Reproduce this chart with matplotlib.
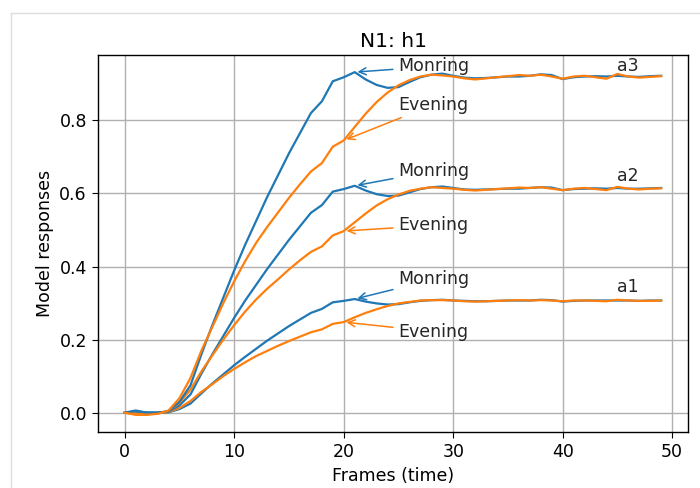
import matplotlib
matplotlib.use("Agg")
import matplotlib.pyplot as plt
from matplotlib.lines import Line2D

frames = list(range(50))

morning_a3 = [0.000, 0.006, 0.000, 0.000, 0.004, 0.030, 0.075, 0.160, 0.240, 0.315,
              0.390, 0.460, 0.525, 0.590, 0.650, 0.710, 0.765, 0.820, 0.852, 0.907,
              0.918, 0.932, 0.912, 0.897, 0.889, 0.891, 0.905, 0.918, 0.925, 0.928,
              0.922, 0.917, 0.915, 0.916, 0.918, 0.920, 0.920, 0.922, 0.926, 0.924,
              0.913, 0.918, 0.920, 0.921, 0.920, 0.922, 0.920, 0.919, 0.921, 0.922]
evening_a3 = [0.000, -0.006, -0.006, -0.003, 0.006, 0.040, 0.095, 0.170, 0.235, 0.300,
              0.360, 0.415, 0.465, 0.508, 0.548, 0.588, 0.625, 0.660, 0.683, 0.728,
              0.745, 0.782, 0.818, 0.850, 0.876, 0.896, 0.910, 0.920, 0.925, 0.923,
              0.920, 0.915, 0.912, 0.915, 0.918, 0.921, 0.924, 0.922, 0.925, 0.920,
              0.914, 0.920, 0.922, 0.918, 0.914, 0.927, 0.920, 0.917, 0.919, 0.921]
morning_a2 = [0.000, 0.004, 0.000, 0.000, 0.003, 0.020, 0.050, 0.107, 0.160, 0.210,
              0.260, 0.307, 0.350, 0.393, 0.433, 0.473, 0.510, 0.547, 0.568, 0.605,
              0.612, 0.621, 0.608, 0.598, 0.593, 0.594, 0.603, 0.612, 0.617, 0.619,
              0.615, 0.611, 0.610, 0.611, 0.612, 0.613, 0.613, 0.615, 0.617, 0.616,
              0.609, 0.612, 0.613, 0.614, 0.613, 0.615, 0.613, 0.613, 0.614, 0.615]
evening_a2 = [0.000, -0.004, -0.004, -0.002, 0.004, 0.027, 0.063, 0.113, 0.157, 0.200,
              0.240, 0.277, 0.310, 0.339, 0.365, 0.392, 0.417, 0.440, 0.455, 0.485,
              0.497, 0.521, 0.545, 0.567, 0.584, 0.597, 0.607, 0.613, 0.617, 0.615,
              0.613, 0.610, 0.608, 0.610, 0.612, 0.614, 0.616, 0.615, 0.617, 0.613,
              0.609, 0.613, 0.615, 0.612, 0.609, 0.618, 0.613, 0.611, 0.613, 0.614]
morning_a1 = [0.000, 0.002, 0.000, 0.000, 0.001, 0.010, 0.025, 0.053, 0.080, 0.105,
              0.130, 0.153, 0.175, 0.197, 0.217, 0.237, 0.255, 0.273, 0.284, 0.302,
              0.306, 0.311, 0.304, 0.299, 0.296, 0.297, 0.302, 0.306, 0.308, 0.309,
              0.307, 0.306, 0.305, 0.305, 0.306, 0.307, 0.307, 0.307, 0.309, 0.308,
              0.304, 0.306, 0.307, 0.307, 0.307, 0.307, 0.307, 0.306, 0.307, 0.307]
evening_a1 = [0.000, -0.002, -0.002, -0.001, 0.002, 0.013, 0.032, 0.057, 0.078, 0.100,
              0.120, 0.138, 0.155, 0.169, 0.183, 0.196, 0.208, 0.220, 0.228, 0.243,
              0.248, 0.261, 0.273, 0.283, 0.292, 0.299, 0.303, 0.307, 0.308, 0.308,
              0.307, 0.305, 0.304, 0.305, 0.306, 0.307, 0.308, 0.307, 0.308, 0.307,
              0.305, 0.307, 0.307, 0.306, 0.305, 0.309, 0.307, 0.306, 0.306, 0.307]

series = [
    ("a1", morning_a1, evening_a1),
    ("a2", morning_a2, evening_a2),
    ("a3", morning_a3, evening_a3),
]
morning_text_y = {"a1": 0.351, "a2": 0.648, "a3": 0.934}
evening_text_y = {"a1": 0.208, "a2": 0.499, "a3": 0.829}
end_label_y = {"a1": 0.329, "a2": 0.634, "a3": 0.934}

plt.rcParams["font.size"] = 12.5
plt.rcParams["xtick.labelsize"] = 12.5
plt.rcParams["ytick.labelsize"] = 12.5
plt.rcParams["grid.linewidth"] = 1.0
plt.rcParams["axes.linewidth"] = 1.0
plt.rcParams["xtick.major.size"] = 4.5
plt.rcParams["ytick.major.size"] = 4.5

fig = plt.figure(figsize=(7.0, 4.88), dpi=100)
ax = fig.add_axes([98 / 700, 1 - 432 / 488, 590 / 700, 377 / 488])

for name, m, e in series:
    ax.plot(frames, m, color="C0", lw=1.6)
    ax.plot(frames, e, color="C1", lw=1.6)
    ax.annotate("Monring", xy=(21, m[21]), xytext=(25, morning_text_y[name]),
                color="#262626", fontsize=12.5,
                arrowprops=dict(arrowstyle="->", color="C0", lw=1.1))
    ax.annotate("Evening", xy=(20, e[20]), xytext=(25, evening_text_y[name]),
                color="#262626", fontsize=12.5,
                arrowprops=dict(arrowstyle="->", color="C1", lw=1.1))
    ax.text(45, end_label_y[name], name, fontsize=12.5, color="#262626")

ax.grid(True)
ax.set_title("N1: h1", fontsize=14.5)
ax.set_xlabel("Frames (time)", fontsize=12.5)
ax.set_ylabel("Model responses", fontsize=12.5)

fig.add_artist(Line2D([10.5 / 700, 10.5 / 700], [0, 1 - 13 / 488],
                      transform=fig.transFigure, color="#dddddd", lw=1))
fig.add_artist(Line2D([10.5 / 700, 1], [1 - 13 / 488, 1 - 13 / 488],
                      transform=fig.transFigure, color="#dddddd", lw=1))

fig.savefig("out.png", dpi=100)
